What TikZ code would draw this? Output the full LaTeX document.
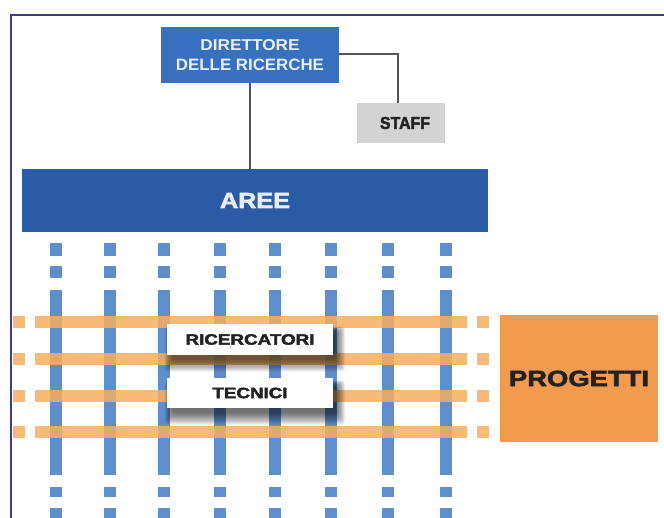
\documentclass[tikz,border=0pt]{standalone}
\usepackage{fontspec}
\setmainfont{Liberation Sans}
\newfontfamily\heavyfont[FakeBold=2.5]{Liberation Sans Bold}
\usepackage{graphicx}
\newcommand{\fitto}[3]{\resizebox{#1pt}{#2pt}{\bfseries #3}}
\newcommand{\fitheavy}[3]{\resizebox{#1pt}{#2pt}{\heavyfont #3}}
\newcommand{\softshadow}[4]{%
  \foreach \e in {0,1,...,9}{%
    \fill[black,opacity=0.075,rounded corners=3pt] (#1-\e*0.8,#2-\e*0.6) rectangle (#3+\e,#4+\e*1.3);}}
\definecolor{framecol}{HTML}{3B3F82}
\definecolor{dirblue}{HTML}{3670BE}
\definecolor{areeblue}{HTML}{2B5BA6}
\definecolor{colblue}{HTML}{5E8FCC}
\definecolor{orangeline}{HTML}{F6AE60}
\definecolor{progorange}{HTML}{F29A4E}
\definecolor{staffgray}{HTML}{D3D3D3}
\definecolor{darktext}{HTML}{222222}
\definecolor{lighttext}{HTML}{E8EFF8}
\definecolor{linkgray}{HTML}{555555}
\begin{document}
\begin{tikzpicture}[x=1pt,y=-1pt,
  boxnode/.style={inner sep=0pt, outer sep=0pt, align=center},
  link/.style={draw=linkgray, line width=1.2pt},
  colbar/.style={fill=colblue},
  rowbar/.style={fill=orangeline, opacity=0.85}]
\useasboundingbox (0,0) rectangle (664,518);
\fill[white] (0,0) rectangle (664,518);

% vertical dashed blue columns
\foreach \x in {55.5,109.5,164,219.5,275,331,388,446}{
  \fill[colbar] (\x-6,243) rectangle (\x+6,256);
  \fill[colbar] (\x-6,266) rectangle (\x+6,278);
  \fill[colbar] (\x-6,290) rectangle (\x+6,475);
  \fill[colbar] (\x-6,487) rectangle (\x+6,497);
  \fill[colbar] (\x-6,508) rectangle (\x+6,518);
}
% horizontal dashed orange rows
\foreach \y in {322,359,396,432}{
  \fill[rowbar] (13,\y-6) rectangle (25,\y+6);
  \fill[rowbar] (35,\y-6) rectangle (467,\y+6);
  \fill[rowbar] (477,\y-6) rectangle (489,\y+6);
}

% shadows of the white boxes
\softshadow{172}{332}{336}{360}
\softshadow{172}{386}{336}{413}

% nodes
\node[boxnode, fill=dirblue, minimum width=178pt, minimum height=56pt,
      text=lighttext, font=\fontsize{11}{20.5}\selectfont] (dir) at (250,55)
  {\raisebox{-2pt}{\fitto{99}{11}{DIRETTORE}}\\\raisebox{-2pt}{\fitto{148}{11.5}{DELLE RICERCHE}}};
\node[boxnode, fill=staffgray, minimum width=88pt, minimum height=40pt,
      text=darktext] (staff) at (401,123) {\hspace{8pt}\fitheavy{50}{12}{STAFF}};
\node[boxnode, fill=areeblue, minimum width=466pt, minimum height=63pt,
      text=lighttext] (aree) at (255,200.5) {\fitheavy{70}{15}{AREE}};
\node[boxnode, fill=white, minimum width=166pt, minimum height=31pt,
      text=darktext] (ric) at (250,339.5) {\fitheavy{129}{10.5}{RICERCATORI}};
\node[boxnode, fill=white, minimum width=166pt, minimum height=30pt,
      text=darktext] (tec) at (250,393) {\fitheavy{75}{10.5}{TECNICI}};
\node[boxnode, fill=progorange, minimum width=158pt, minimum height=127pt,
      text=darktext] (prog) at (579,378.5) {\fitheavy{140}{15.5}{PROGETTI}};

% connectors
\draw[link] (dir.south) -- (dir.south |- aree.north);
\coordinate (staffin) at ([xshift=-3pt]staff.north);
\draw[link] ([yshift=1pt]dir.east) -| (staffin);

% frame
\draw[framecol, line width=2.5pt] (11.2,518) -- (11.2,15) -- (664,15);
\end{tikzpicture}
\end{document}
